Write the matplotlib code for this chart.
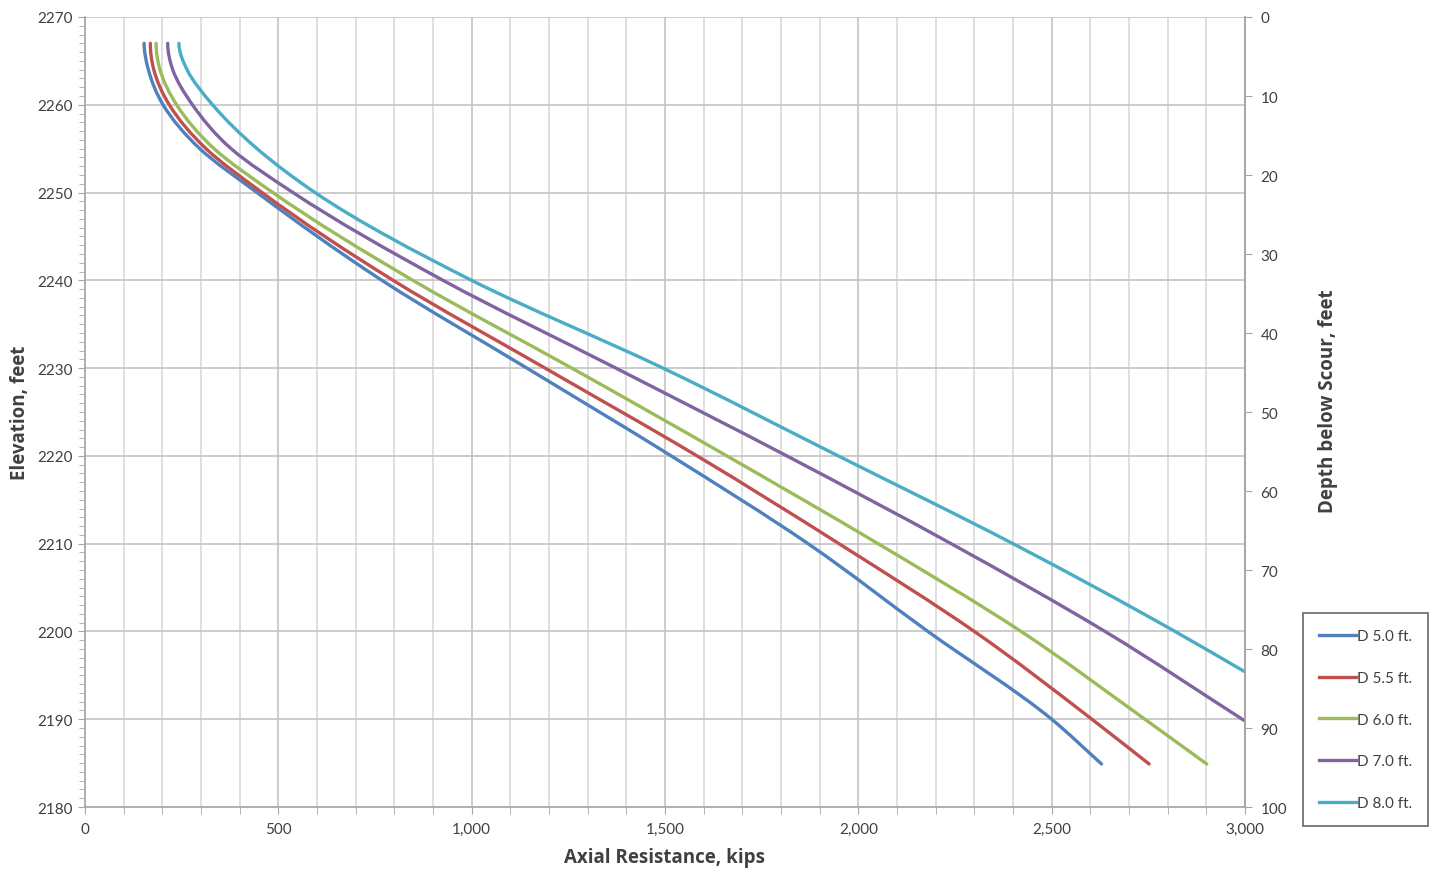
import numpy as np
import matplotlib.pyplot as plt
from matplotlib.path import Path
from matplotlib.patches import PathPatch
from matplotlib.lines import Line2D
from matplotlib.ticker import MultipleLocator, FuncFormatter

plt.rcParams['font.family'] = ['Lato', 'DejaVu Sans']

# elevation points (ft) and axial resistance (kips) for each shaft diameter
elev = [2267, 2264, 2260, 2255, 2250, 2240, 2230, 2220, 2210, 2200, 2190]

d50 = [153, 164, 202, 297, 445, 768, 1143, 1516, 1870, 2180, 2500]
d55 = [169, 178, 218, 313, 458, 797, 1190, 1583, 1950, 2300, 2604]
d60 = [184, 194, 237, 334, 486, 848, 1259, 1660, 2051, 2421, 2741]
d70 = [214, 227, 278, 378, 538, 926, 1373, 1815, 2240, 2638]
d80 = [243, 264, 330, 445, 595, 1000, 1495, 1948, 2400, 2819]

# end points of each curve
end50 = (2629, 2184.9)
end55 = (2752, 2184.9)
end60 = (2901, 2184.9)
end70 = (3000, 2189.8)
end80 = (3000, 2195.4)

labels = ['D 5.0 ft.', 'D 5.5 ft.', 'D 6.0 ft.', 'D 7.0 ft.', 'D 8.0 ft.']
colors = ['#4F81BD', '#C0504D', '#9BBB59', '#8064A2', '#4BACC6']


def smooth_path(xs, ys):
    # smoothed line like Excel: cubic Bezier segments through the data points
    xs = np.asarray(xs, float)
    ys = np.asarray(ys, float)
    h = np.diff(ys)
    d = np.diff(xs) / h
    m = np.empty(len(xs))
    m[-1] = d[-1]
    for i in range(1, len(xs) - 1):
        m[i] = (d[i - 1] * h[i] + d[i] * h[i - 1]) / (h[i - 1] + h[i])
    m[0] = max(0.0, 2 * d[0] - m[1])
    verts = [(xs[0], ys[0])]
    codes = [Path.MOVETO]
    for i in range(len(xs) - 1):
        dy = h[i]
        verts += [(xs[i] + m[i] * dy / 3, ys[i] + dy / 3),
                  (xs[i + 1] - m[i + 1] * dy / 3, ys[i + 1] - dy / 3),
                  (xs[i + 1], ys[i + 1])]
        codes += [Path.CURVE4] * 3
    return Path(verts, codes)


fig = plt.figure(figsize=(14.4, 8.78), dpi=100)
ax = fig.add_axes([0.059, 0.0797, 0.8056, 0.8998])

series = [(d50, end50), (d55, end55), (d60, end60), (d70, end70), (d80, end80)]
handles = []
for (vals, end), lab, c in zip(series, labels, colors):
    xs = list(vals) + [end[0]]
    ys = elev[:len(vals)] + [end[1]]
    patch = PathPatch(smooth_path(xs, ys), facecolor='none', edgecolor=c, lw=2.4,
                      capstyle='round', zorder=3)
    ax.add_patch(patch)
    handles.append(Line2D([], [], color=c, lw=2.4, label=lab))

ax.set_xlim(0, 3000)
ax.set_ylim(2180, 2270)

spine_c = '#A6A6A6'
ax.xaxis.set_major_locator(MultipleLocator(500))
ax.xaxis.set_minor_locator(MultipleLocator(100))
ax.xaxis.set_major_formatter(FuncFormatter(lambda v, p: f'{int(v):,}'))
ax.yaxis.set_major_locator(MultipleLocator(10))
ax.yaxis.set_minor_locator(MultipleLocator(1))

ax.grid(which='major', color='#C4C4C4', lw=1.2, zorder=0)
ax.grid(which='minor', axis='x', color='#D9D9D9', lw=1.2, zorder=0)

ax.tick_params(axis='both', which='both', color=spine_c, labelcolor='#404040', labelsize=11)
ax.tick_params(axis='x', which='both', length=5, pad=6)
ax.tick_params(axis='y', which='major', length=5, pad=4)
ax.tick_params(axis='y', which='minor', length=4)

ax.spines['top'].set_visible(False)
for s in ['left', 'bottom', 'right']:
    ax.spines[s].set_color(spine_c)
    ax.spines[s].set_linewidth(1.2)

lab_font = dict(family=['Open Sans', 'DejaVu Sans'], fontsize=13.5, fontweight='bold', color='#404040')
ax.set_xlabel('Axial Resistance, kips', labelpad=8, **lab_font)
ax.set_ylabel('Elevation, feet', labelpad=5, **lab_font)

ax2 = ax.twinx()
ax2.set_ylim(100, 0)
ax2.yaxis.set_major_locator(MultipleLocator(10))
ax2.tick_params(axis='y', length=5, color=spine_c, labelcolor='#404040', labelsize=11, pad=6)
for s in ['top', 'left', 'bottom']:
    ax2.spines[s].set_visible(False)
ax2.spines['right'].set_color(spine_c)
ax2.spines['right'].set_linewidth(1.2)
ax2.set_ylabel('Depth below Scour, feet', **lab_font)
ax2.yaxis.set_label_coords(1.063, 0.515)

leg = fig.legend(handles=handles, loc='upper left', bbox_to_anchor=(1303 / 1440, 1 - 614 / 878),
                 frameon=True, fancybox=False, edgecolor='#404040', fontsize=11,
                 handlelength=2.4, handletextpad=0.1, labelspacing=1.82,
                 borderpad=1.05, borderaxespad=0)
leg.get_frame().set_linewidth(1.2)
for t in leg.get_texts():
    t.set_color('#404040')

fig.savefig('out.png', dpi=100)
